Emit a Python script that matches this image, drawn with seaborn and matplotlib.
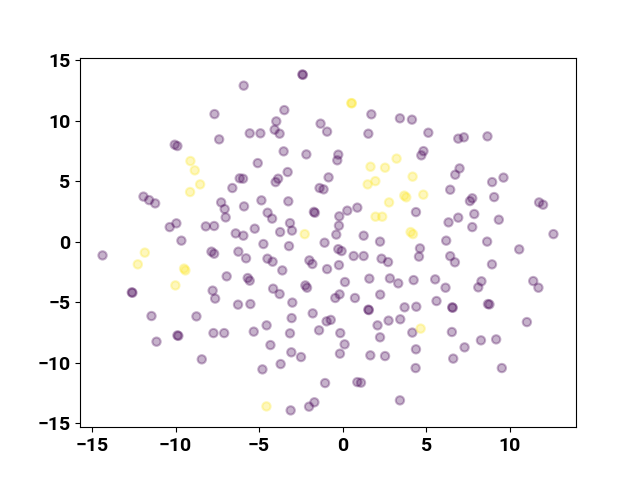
import matplotlib
matplotlib.use("Agg")
import matplotlib.pyplot as plt
import numpy as np
import pandas as pd
import seaborn as sns

# embedding coordinates, class 0 (purple)
x_class0 = [
    -10.05, -9.89, -11.92, -11.58, -11.22, -9.95, -10.35, -8.19, -9.65, -7.67,
    -2.41, -2.38, -5.92, -3.49, -3.97, -4.07, -3.77, -5.56, -4.92, -7.39,
    -1.32, -0.93, -3.53, -2.17, -5.08, -3.29, -6.16, -5.96, -3.86, -4.01,
    -0.84, -6.60, -1.38, -1.14, -7.27, -7.06, -7.00, -5.90, -4.86, -3.25,
    -4.49, -4.22, -1.72, -1.66, -7.69, -6.40, -5.94, -5.26, -3.74, -3.15,
    -3.03, -1.08, -4.74, -3.21, 1.72, 3.43, 4.15, 5.13, 1.54, -0.26,
    -0.32, 4.84, 4.71, 6.44, 4.39, 0.88, 0.28, -0.20, -0.22, -0.38,
    1.26, 2.24, 6.34, 6.20, 6.92, 7.26, 8.67, 7.00, 6.74, 8.95,
    9.63, 7.76, 7.62, 9.07, 11.76, 12.00, 7.88, 6.92, 9.35, 7.76,
    12.62, 8.65, 10.57, -14.37, -12.62, -12.58, -11.44, -8.75, -11.14, -9.89,
    -9.83, -8.43, -7.78, -7.73, -7.85, -7.69, -6.24, -5.78, -4.50, -4.19,
    -3.61, -1.99, -1.81, -0.93, -6.94, -5.68, -5.56, -4.16, -3.77, -2.23,
    -2.13, -7.63, -6.26, -5.52, -3.01, -1.79, -3.05, -0.96, -0.71, -1.41,
    -7.09, -5.32, -4.55, -3.15, -4.32, -3.07, -2.49, -3.71, -4.80, -1.05,
    -3.11, -2.01, -1.69, 4.63, 4.57, 6.44, -0.26, -0.06, 0.66, 1.26,
    2.33, 2.72, -0.22, 0.14, 1.60, 2.83, 3.33, 4.25, 5.54, 6.16,
    -0.18, -0.44, 0.74, 2.25, 5.62, 1.54, 1.57, 3.71, 4.41, -0.14,
    2.09, 2.75, 3.45, 4.17, 2.24, 0.12, -0.16, 1.66, 2.54, 4.39,
    6.54, 6.62, 4.37, 0.88, 1.10, 3.43, 6.72, 8.94, 8.31, 8.12,
    11.41, 11.72, 6.56, 6.59, 8.70, 8.79, 11.03, 8.28, 9.19, 7.30,
    9.53,
]
y_class0 = [
    8.03, 7.92, 3.74, 3.45, 3.18, 1.53, 1.22, 1.28, 0.10, 10.56,
    13.84, 13.80, 12.91, 10.89, 9.96, 9.27, 8.94, 8.97, 8.97, 8.47,
    9.77, 9.11, 7.48, 7.23, 6.51, 5.77, 5.25, 5.22, 5.22, 4.94,
    5.33, 4.45, 4.45, 4.34, 3.26, 2.71, 2.02, 2.93, 3.43, 3.35,
    2.41, 1.92, 2.48, 2.40, 1.31, 0.70, 0.51, 1.09, 0.81, 1.55,
    0.93, -0.07, -0.18, -0.35, 10.54, 10.21, 10.10, 9.02, 8.94, 7.21,
    6.74, 7.50, 7.15, 4.31, 2.46, 2.83, 2.58, 2.11, 1.34, 0.60,
    0.51, 0.02, 1.61, 0.10, 8.53, 8.64, 8.72, 6.07, 5.55, 4.94,
    5.31, 3.60, 3.37, 3.70, 3.26, 3.07, 2.30, 2.00, 1.83, 1.22,
    0.64, 0.02, -0.62, -1.12, -4.17, -4.21, -6.13, -6.16, -8.25, -7.73,
    -7.77, -9.71, -4.03, -7.54, -0.81, -0.98, -0.81, -1.36, -1.39, -1.64,
    -2.36, -1.53, -1.83, -2.25, -2.85, -2.99, -3.21, -3.87, -4.31, -3.60,
    -3.79, -4.69, -5.19, -5.14, -5.02, -5.91, -6.30, -6.57, -6.45, -7.31,
    -7.54, -7.42, -6.90, -7.56, -8.53, -9.13, -9.52, -10.10, -10.54, -11.67,
    -13.93, -13.62, -13.26, -0.54, -1.22, -1.18, -0.60, -0.76, -1.17, -1.17,
    -1.39, -1.67, -1.92, -3.32, -3.04, -3.02, -3.43, -3.16, -3.10, -3.79,
    -4.34, -4.64, -4.64, -4.36, -4.89, -5.60, -5.64, -5.41, -5.36, -7.54,
    -6.90, -6.51, -6.40, -7.50, -7.89, -8.47, -9.24, -9.38, -9.44, -8.88,
    -7.45, -9.65, -10.43, -11.59, -11.64, -13.10, -1.69, -1.86, -3.26, -3.76,
    -3.24, -3.79, -5.41, -5.45, -5.14, -5.17, -6.63, -8.14, -8.06, -8.72,
    -10.43,
]

# embedding coordinates, class 1 (yellow)
x_class1 = [
    -9.11, -8.85, -8.53, -9.13, -2.27, 0.52, 0.55, 3.23, 1.67, 2.54,
    4.19, 1.50, 1.96, 3.69, 3.81, 4.83, 2.78, 1.97, 2.37, 4.07,
    4.21, -11.84, -12.26, -9.49, -9.41, -10.01, 4.67, -4.56,
]
y_class1 = [
    6.68, 5.91, 4.75, 4.12, 0.64, 11.47, 11.45, 6.88, 6.21, 6.13,
    5.39, 4.75, 5.02, 3.82, 3.68, 3.90, 3.26, 2.08, 2.08, 0.81,
    0.64, -0.89, -1.86, -2.21, -2.36, -3.60, -7.17, -13.60,
]

df = pd.DataFrame({
    "x": x_class0 + x_class1,
    "y": y_class0 + y_class1,
    "label": [0] * len(x_class0) + [1] * len(x_class1),
})

viridis = plt.get_cmap("viridis")
palette = {0: viridis(0.0), 1: viridis(1.0)}

fig, ax = plt.subplots(figsize=(6.4, 4.8), dpi=100)
sns.scatterplot(
    data=df, x="x", y="y", hue="label", palette=palette,
    alpha=0.3, s=36, edgecolor="face", linewidth=1.5,
    legend=False, ax=ax,
)
ax.set_xlabel("")
ax.set_ylabel("")
ax.set_xticks([-15, -10, -5, 0, 5, 10])
ax.set_yticks([-15, -10, -5, 0, 5, 10, 15])
for lbl in ax.get_xticklabels() + ax.get_yticklabels():
    lbl.set_fontfamily(["Roboto", "DejaVu Sans"])
    lbl.set_fontweight("bold")
    lbl.set_fontsize(14)

fig.savefig("out.png", dpi=100)
